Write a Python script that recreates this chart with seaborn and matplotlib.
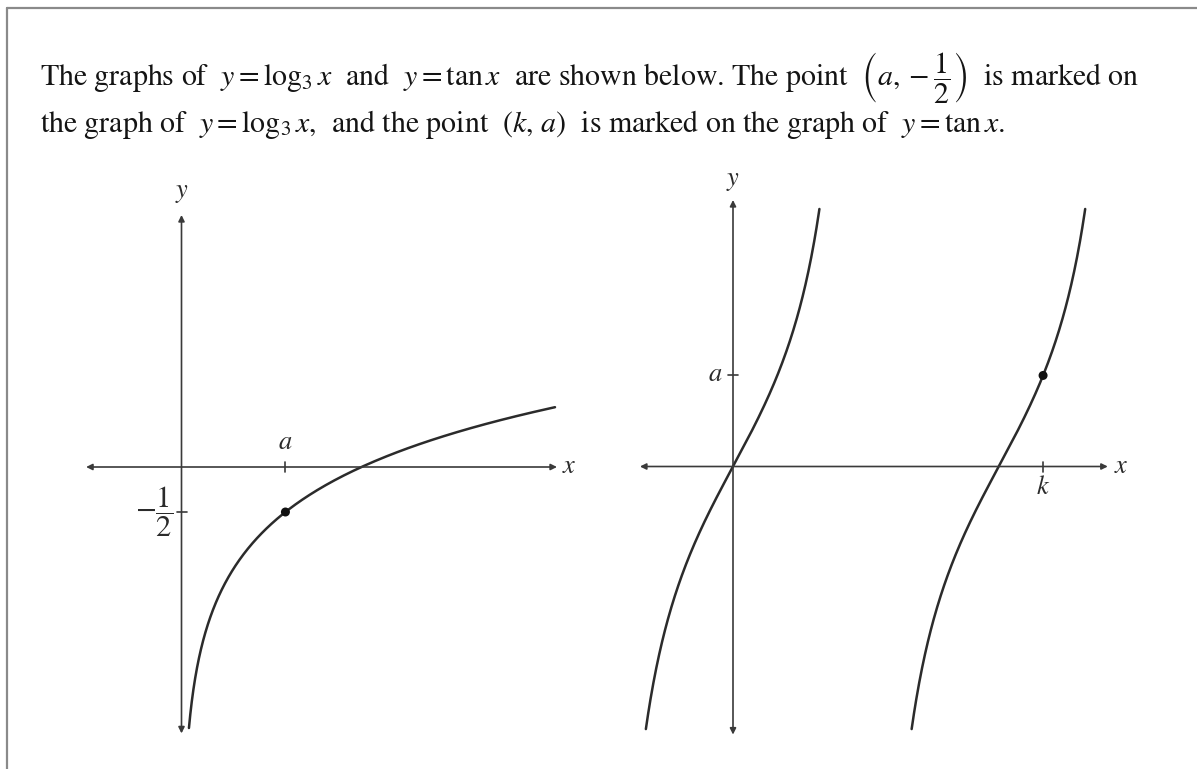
import numpy as np
import pandas as pd
import matplotlib
matplotlib.use("Agg")
import matplotlib.pyplot as plt
from matplotlib.lines import Line2D
import seaborn as sns

# ---- values -------------------------------------------------------------
log_base = 3
a_value = log_base ** -0.5            # log_3(a) = -1/2
point_log = (a_value, -0.5)           # (a, -1/2) on y = log_3 x
k_value = np.pi + np.arctan(a_value)  # tan k = a on the second branch
point_tan = (k_value, a_value)        # (k, a) on y = tan x

log_x_range = (log_base ** -2.9, 2.075)   # drawn part of y = log_3 x
tan_y_range = (-1.665, 1.633)              # drawn part of each tan branch
tan_branch_shifts = [0.0, np.pi]

log_axis_x = (-0.53, 2.086)
log_axis_y = (-2.96, 2.80)
tan_axis_x = (-1.10, 4.43)
tan_axis_y = (-1.70, 1.69)

line1 = (r"The graphs of  $y = \log_3 x$  and  $y = \tan x$  are shown below. "
         r"The point  $\left(a, -\dfrac{1}{2}\right)$  is marked on")
line2 = (r"the graph of  $y = \log_3 x$,  and the point  $(k,\, a)$  "
         r"is marked on the graph of  $y = \tan x.$")

# ---- style --------------------------------------------------------------
sns.set_theme(style="white")
plt.rcParams["font.family"] = ["STIXGeneral", "DejaVu Serif"]
plt.rcParams["mathtext.fontset"] = "stix"

W, H = 1197, 769
fig = plt.figure(figsize=(W / 100, H / 100), dpi=100)
fig.patch.set_facecolor("white")

INK = "#2b2b2b"
AX_INK = "#3a3a3a"
TXT = "#141414"


def px_axes(x0, y0, x1, y1):
    """Axes occupying the pixel box (x0, y0)-(x1, y1), y measured from top."""
    return fig.add_axes([x0 / W, 1 - y1 / H, (x1 - x0) / W, (y1 - y0) / H])


# frame lines at the left and top
fig.add_artist(Line2D([7 / W, 7 / W], [0, 1 - 8 / H], color="#8a8a8a", lw=1.6))
fig.add_artist(Line2D([7 / W, 1], [1 - 8 / H, 1 - 8 / H], color="#8a8a8a", lw=1.6))

fig.text(40 / W, 1 - 86 / H, line1, fontsize=21.5, va="baseline", ha="left", color=TXT)
fig.text(40 / W, 1 - 132 / H, line2, fontsize=21.5, va="baseline", ha="left", color=TXT)


def draw_axes(ax, xr, yr):
    arrow = dict(arrowstyle="<|-|>", color=AX_INK, lw=1.2, mutation_scale=9,
                 shrinkA=0, shrinkB=0)
    ax.annotate("", xy=(xr[1], 0), xytext=(xr[0], 0), arrowprops=arrow)
    ax.annotate("", xy=(0, yr[1]), xytext=(0, yr[0]), arrowprops=arrow)


# ---- left: y = log_3 x ---------------------------------------------------
axL = px_axes(60, 170, 600, 750)
u, s = 180.0, 90.0          # pixels per unit
ox, oy = 181.5, 467.0
axL.set_xlim((60 - ox) / u, (600 - ox) / u)
axL.set_ylim((oy - 750) / s, (oy - 170) / s)
axL.set_axis_off()

xs = np.geomspace(*log_x_range, 400)
log_df = pd.DataFrame({"x": xs, "y": np.log(xs) / np.log(log_base)})
draw_axes(axL, log_axis_x, log_axis_y)
sns.lineplot(data=log_df, x="x", y="y", ax=axL, color=INK, lw=1.8, sort=False)
sns.scatterplot(x=[point_log[0]], y=[point_log[1]], ax=axL, color="#111111",
                s=42, edgecolor="none", zorder=5)
# tick marks
tx = 5 / u
ty = 5 / s
axL.plot([point_log[0]] * 2, [-ty, ty], color=AX_INK, lw=1.2)
axL.plot([-tx, tx], [point_log[1]] * 2, color=AX_INK, lw=1.2)
axL.text(point_log[0], 12 / s, r"$a$", ha="center", va="bottom", fontsize=19, color=INK)
axL.text(-8 / u, point_log[1], r"$-\dfrac{1}{2}$", ha="right", va="center",
         fontsize=22, color=INK)
axL.text(log_axis_x[1] + 5 / u, 0, r"$x$", ha="left", va="center", fontsize=19, color=INK)
axL.text(0, log_axis_y[1] + 10 / s, r"$y$", ha="center", va="bottom", fontsize=19, color=INK)

# ---- right: y = tan x ---------------------------------------------------
axR = px_axes(620, 170, 1140, 750)
ux, uy = 84.6, 157.7
ox2, oy2 = 733.0, 466.5
axR.set_xlim((620 - ox2) / ux, (1140 - ox2) / ux)
axR.set_ylim((oy2 - 750) / uy, (oy2 - 170) / uy)
axR.set_axis_off()

draw_axes(axR, tan_axis_x, tan_axis_y)
xb = np.linspace(np.arctan(tan_y_range[0]), np.arctan(tan_y_range[1]), 300)
for shift in tan_branch_shifts:
    branch = pd.DataFrame({"x": xb + shift, "y": np.tan(xb)})
    sns.lineplot(data=branch, x="x", y="y", ax=axR, color=INK, lw=1.8, sort=False)
sns.scatterplot(x=[point_tan[0]], y=[point_tan[1]], ax=axR, color="#111111",
                s=42, edgecolor="none", zorder=5)
tx2 = 5 / ux
ty2 = 5 / uy
axR.plot([point_tan[0]] * 2, [-ty2, ty2], color=AX_INK, lw=1.2)
axR.plot([-tx2, tx2], [point_tan[1]] * 2, color=AX_INK, lw=1.2)
axR.text(-10 / ux, point_tan[1], r"$a$", ha="right", va="center", fontsize=19, color=INK)
axR.text(point_tan[0], -9 / uy, r"$k$", ha="center", va="top", fontsize=19, color=INK)
axR.text(tan_axis_x[1] + 6 / ux, 0, r"$x$", ha="left", va="center", fontsize=19, color=INK)
axR.text(0, tan_axis_y[1] + 7 / uy, r"$y$", ha="center", va="bottom", fontsize=19, color=INK)

fig.savefig("out.png", dpi=100, facecolor="white")
